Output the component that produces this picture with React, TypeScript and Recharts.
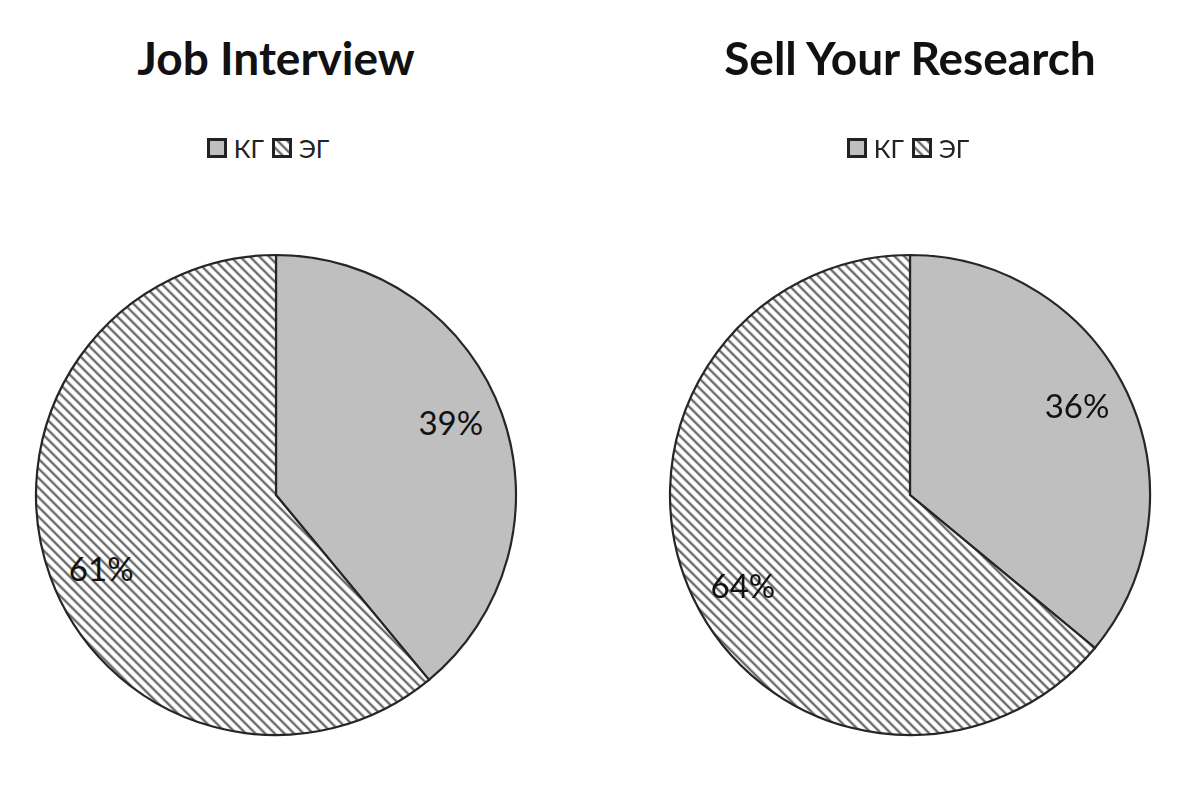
import { PieChart, Pie, Cell, Legend } from 'recharts';

const groups = ['КГ', 'ЭГ'];
const jobInterview = [39, 61];
const sellResearch = [36, 64];
const titles = ['Job Interview', 'Sell Your Research'];

const fills = ['#bfbfbf', 'url(#hatch)'];
const RADIAN = Math.PI / 180;

const renderLabel = ({ cx, cy, midAngle, outerRadius, value }: any) => {
  const r = outerRadius * 0.79;
  const a = midAngle + 3;
  const x = cx + r * Math.cos(-a * RADIAN);
  const y = cy + r * Math.sin(-a * RADIAN);
  return (
    <text x={x} y={y} textAnchor="middle" dominantBaseline="central"
      fontFamily="Lato, sans-serif" fontSize={33} fill="#111">
      {value}%
    </text>
  );
};

const LegendBox = () => (
  <div style={{ display: 'flex', justifyContent: 'center', alignItems: 'center', gap: 8,
    fontFamily: 'Lato, sans-serif', fontSize: 25, color: '#222' }}>
    {groups.map((g, i) => (
      <div key={g} style={{ display: 'flex', alignItems: 'center', gap: 7 }}>
        <svg width={20} height={20}>
          <rect x={1.5} y={1.5} width={17} height={17} fill={fills[i]} stroke="#222" strokeWidth={3} />
        </svg>
        <span>{g}</span>
      </div>
    ))}
  </div>
);

function OnePie({ title, values, left, cx, legendX }: any) {
  const data = groups.map((g, i) => ({ name: g, value: values[i] }));
  return (
    <div style={{ position: 'absolute', left, top: 0, width: 597, height: 792 }}>
      <div style={{ position: 'absolute', left: 0, top: 30, width: cx * 2, textAlign: 'center',
        fontFamily: 'Lato, sans-serif', fontWeight: 700, fontSize: 46, color: '#111' }}>
        {title}
      </div>
      <PieChart width={597} height={792} margin={{ top: 0, right: 0, bottom: 0, left: 0 }}>
        <Legend verticalAlign="top" content={<LegendBox />}
          wrapperStyle={{ top: 133, left: legendX - 100, width: 200 }} />
        <Pie data={data} dataKey="value" nameKey="name" cx={cx} cy={465} outerRadius={240}
          startAngle={90} endAngle={-270} stroke="#262626" strokeWidth={2.2}
          label={renderLabel} labelLine={false} isAnimationActive={false}>
          {data.map((d, i) => (
            <Cell key={d.name} fill={fills[i]} />
          ))}
        </Pie>
      </PieChart>
    </div>
  );
}

export default function App() {
  return (
    <div style={{ position: 'fixed', left: 0, top: 0, width: 1194, height: 792, background: '#fff' }}>
      <svg width={0} height={0} style={{ position: 'absolute' }}>
        <defs>
          <pattern id="hatch" patternUnits="userSpaceOnUse" width={6.8} height={6.8} patternTransform="rotate(-45)">
            <rect width={6.8} height={6.8} fill="#fff" />
            <line x1={2} y1={0} x2={2} y2={6.8} stroke="#6a6a6a" strokeWidth={2.4} />
          </pattern>
        </defs>
      </svg>
      <OnePie title={titles[0]} values={jobInterview} left={0} cx={276} legendX={268} />
      <OnePie title={titles[1]} values={sellResearch} left={597} cx={313} legendX={311} />
    </div>
  );
}
